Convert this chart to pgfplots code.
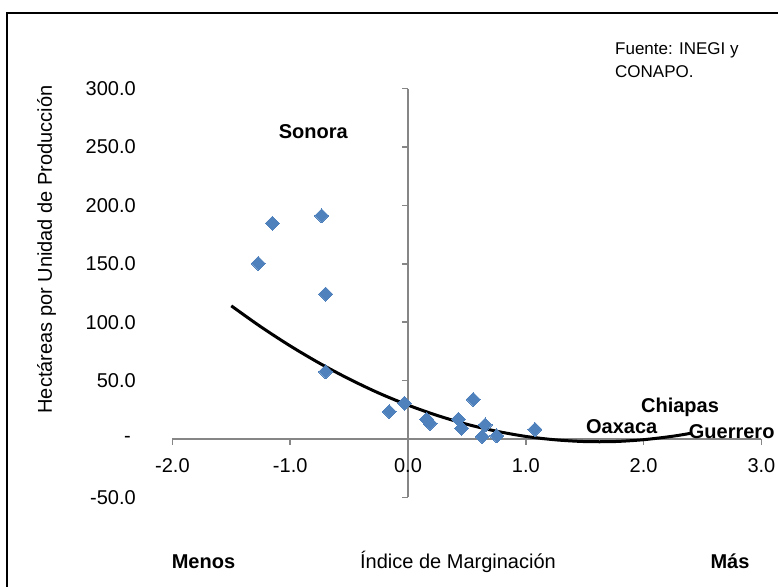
\documentclass[border=0pt]{standalone}
\usepackage{fontspec}
\setmainfont{Liberation Sans}
\usepackage{pgfplots}
\pgfplotsset{compat=1.18}
\definecolor{ptblue}{HTML}{4F81BD}
\definecolor{axgray}{HTML}{868686}
\begin{document}
\fontsize{20bp}{24bp}\selectfont
\begin{tikzpicture}[x=1bp,y=1bp]
\useasboundingbox (0,0) rectangle (778,587);
\draw[line width=2bp] (7,-5) -- (7,574) -- (783,574);
\begin{axis}[
 at={(172.4bp,89.6bp)}, anchor=south west, scale only axis,
 width=589bp, height=408.8bp,
 xmin=-2, xmax=3, ymin=-50, ymax=300,
 axis lines=middle,
 hide obscured x ticks=false, hide obscured y ticks=false,
 axis line style={-, draw=axgray, line width=1.5bp},
 tick style={draw=axgray, line width=1.5bp},
 major tick length=6bp,
 tick align=outside,
 xtick={-2,-1,0,1,2,3},
 xticklabels={-2.0,-1.0,0.0,1.0,2.0,3.0},
 ytick={-50,0,50,100,150,200,250,300},
 yticklabels={-50.0,{-\hspace*{5bp}},50.0,100.0,150.0,200.0,250.0,300.0},
 xticklabel style={anchor=center, inner sep=0pt, yshift=-21bp},
 yticklabel style={anchor=east, inner sep=0pt, xshift=-266bp},
 clip=false,
]
\addplot[only marks, mark=square*, mark size=4.95bp, mark options={rotate=45, fill=ptblue, draw=ptblue, line width=0pt}] coordinates {
(-1.271,150.4) (-1.152,184.7) (-0.733,191.2) (-0.699,124.1) (-0.699,57.6)
(-0.159,23.4) (-0.031,30.6) (0.159,16.9) (0.187,13.4) (0.427,16.9)
(0.456,9.2) (0.554,34.0) (0.654,12.0) (0.631,2.0) (0.753,2.6) (1.078,8.3)
};
\addplot[black, line width=3bp, smooth] coordinates {
(-1.5,114.0) (-1.25,96.1) (-1.0,79.7) (-0.75,64.8) (-0.5,51.4) (-0.25,39.4)
(0,29.0) (0.25,20.1) (0.5,12.6) (0.75,6.7) (1.0,2.2) (1.25,-0.7) (1.5,-2.2)
(1.75,-2.2) (2.0,-0.6) (2.25,2.4) (2.4,4.9)
};
\end{axis}
\node[anchor=base, font=\bfseries] at (313.3,448.1) {Sonora};
\node[anchor=base, font=\bfseries] at (680,174.8) {Chiapas};
\node[anchor=base, font=\bfseries] at (621.7,153.1) {Oaxaca};
\node[anchor=base, font=\bfseries] at (731.7,148.1) {Guerrero};
\node[anchor=base, font=\bfseries] at (203.5,18.8) {Menos};
\node[anchor=base] at (458,18.8) {Índice de Marginación};
\node[anchor=base, font=\bfseries] at (730,18.8) {Más};
\node[rotate=90, anchor=center] at (46.7,337.5) {Hectáreas por Unidad de Producción};
\node[anchor=base west, inner sep=0pt, font=\fontsize{17bp}{20bp}\selectfont] at (615,532.9) {Fuente: INEGI y};
\node[anchor=base west, inner sep=0pt, font=\fontsize{17bp}{20bp}\selectfont] at (615,509.2) {CONAPO.};
\end{tikzpicture}
\end{document}
